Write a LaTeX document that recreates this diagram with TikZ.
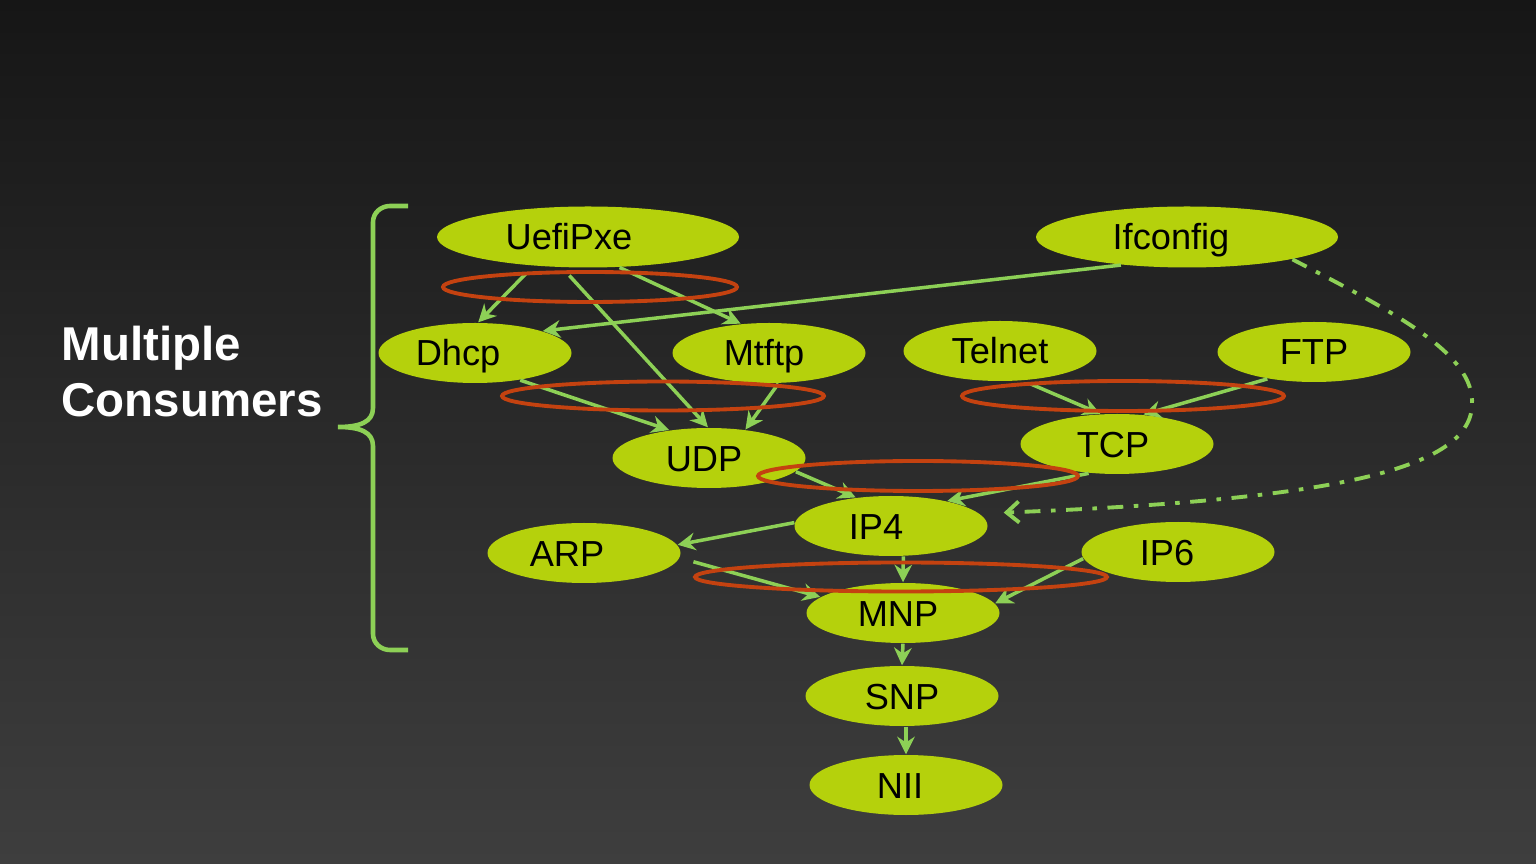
\documentclass[tikz,border=0pt]{standalone}
\usepackage{fontspec}
\setmainfont{Liberation Sans}
\usetikzlibrary{shapes.geometric,arrows.meta}
\definecolor{nodegreen}{RGB}{181,209,12}
\definecolor{linkgreen}{RGB}{141,208,86}
\definecolor{ringred}{RGB}{196,66,16}
\definecolor{bgtop}{RGB}{22,22,22}
\definecolor{bgbot}{RGB}{62,62,62}
\newcommand{\txtleft}[2]{\hspace*{-#1}#2}

\begin{document}
\begin{tikzpicture}[>={Stealth[length=5pt,width=5pt]},
  layer/.style={ellipse, fill=nodegreen, inner sep=0pt, minimum width=1.93cm, minimum height=0.60cm,
    font=\fontsize{10.3pt}{12pt}\selectfont, text height=7.4pt, text depth=0pt},
  wide/.style={layer, minimum width=3.02cm, minimum height=0.61cm},
  link/.style={->, draw=linkgreen, line width=1pt},
  ring/.style={draw=ringred, line width=1.1pt}]
  \shade[top color=bgtop, bottom color=bgbot] (0,0) rectangle (15.36,-8.64);

  % protocol layers
  \node[wide]  (uefi)   at (5.88,-2.37) {\txtleft{0.38cm}{UefiPxe}};
  \node[wide]  (ifc)    at (11.87,-2.37) {\txtleft{0.32cm}{Ifconfig}};
  \node[layer] (dhcp)   at (4.75,-3.53) {\txtleft{0.34cm}{Dhcp}};
  \node[layer] (mtftp)  at (7.69,-3.53) {\txtleft{0.10cm}{Mtftp}};
  \node[layer] (telnet) at (10.00,-3.51) {Telnet};
  \node[layer] (ftp)    at (13.14,-3.52) {FTP};
  \node[layer] (udp)    at (7.09,-4.58) {\txtleft{0.10cm}{UDP}};
  \node[layer] (tcp)    at (11.17,-4.44) {\txtleft{0.08cm}{TCP}};
  \node[layer] (ip4)    at (8.91,-5.26) {\txtleft{0.30cm}{IP4}};
  \node[layer] (arp)    at (5.84,-5.53) {\txtleft{0.34cm}{ARP}};
  \node[layer] (ip6)    at (11.78,-5.52) {\txtleft{0.22cm}{IP6}};
  \node[layer] (mnp)    at (9.03,-6.13) {\txtleft{0.10cm}{MNP}};
  \node[layer] (snp)    at (9.02,-6.96) {SNP};
  \node[layer] (nii)    at (9.06,-7.85) {\txtleft{0.12cm}{NII}};

  % consumers
  \draw[link, shorten <=3pt] (uefi.-152) -- (dhcp.84);
  \draw[link, shorten <=3pt] (uefi.-130) -- (udp.92);
  \draw[link] (uefi.-44) -- (mtftp.134);
  \draw[link] (ifc.-157) -- (dhcp.18);
  \draw[link] (dhcp.-31) -- (udp.145);
  \draw[link] (mtftp.-73) -- (udp.38);
  \draw[link, shorten <=2pt] (telnet.-52) -- (tcp.119);
  \draw[link] (ftp.-150) -- (tcp.48);
  \draw[link] (udp.-9) -- (ip4.141);
  \draw[link] (tcp.-134) -- (ip4.24);
  \draw[link] (ip4.178) -- (arp.5);
  \draw[link, shorten <=4pt] (arp.-3) -- (mnp.169);
  \draw[link] (ip4.-68) -- (mnp.north);
  \draw[link] (ip6.-176) -- (mnp.6);
  \draw[link] (mnp.south) -- (snp.north);
  \draw[link] (snp.south -| nii.north) -- (nii.north);

  % ifconfig talks to ip4 directly
  \draw[draw=linkgreen, line width=1.1pt, dash pattern=on 4.5pt off 3pt on 1.3pt off 3pt,
    -{Straight Barb[length=3.5pt,width=6pt]}, shorten >=6.8pt]
    (ifc.-12) .. controls (14.00,-3.15) and (14.75,-3.55) .. (14.72,-4.05)
    .. controls (14.70,-4.70) and (13.30,-5.00) .. (ip4.8);

  % shared layers
  \draw[ring] (5.90,-2.87) ellipse [x radius=1.47, y radius=0.15];
  \draw[ring] (6.63,-3.96) ellipse [x radius=1.61, y radius=0.145];
  \draw[ring] (11.23,-3.96) ellipse [x radius=1.61, y radius=0.15];
  \draw[ring] (9.18,-4.76) ellipse [x radius=1.60, y radius=0.15];
  \draw[ring] (9.01,-5.77) ellipse [x radius=2.06, y radius=0.145];

  \draw[linkgreen, line width=1.3pt] (4.08,-2.06) -- (3.90,-2.06) to[out=180,in=90] (3.73,-2.22)
    -- (3.73,-4.08) .. controls (3.73,-4.22) and (3.60,-4.27) .. (3.38,-4.27)
    .. controls (3.60,-4.27) and (3.73,-4.32) .. (3.73,-4.46)
    -- (3.73,-6.34) to[out=-90,in=180] (3.90,-6.50) -- (4.08,-6.50);
  \node[anchor=north west, inner sep=0pt, align=left, text=white,
    font=\fontsize{13.5pt}{16pt}\selectfont\bfseries] (title) at (0.61,-3.25) {Multiple\\Consumers};
\end{tikzpicture}
\end{document}
